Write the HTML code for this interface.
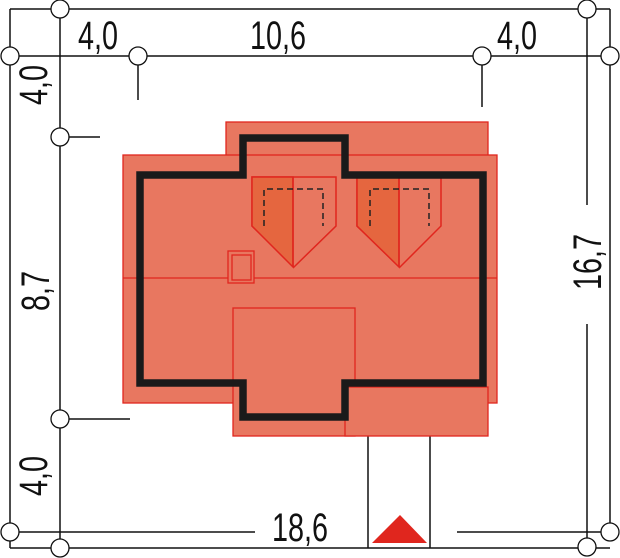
<!DOCTYPE html>
<html><head><style>
html,body{margin:0;padding:0;background:#fff;}
svg{display:block;}
text{font-family:"Liberation Sans",sans-serif;font-size:40px;fill:#111;}
</style></head><body>
<svg width="620" height="558" viewBox="0 0 620 558" xmlns="http://www.w3.org/2000/svg">
<g stroke="#111" stroke-width="1.5" fill="none">
<line x1="10" y1="9" x2="610" y2="9"/>
<line x1="10" y1="56" x2="610" y2="56"/>
<line x1="10" y1="9" x2="10" y2="548"/>
<line x1="60" y1="9" x2="60" y2="548"/>
<line x1="610" y1="9" x2="610" y2="532"/>
<line x1="587" y1="9" x2="587" y2="205"/>
<line x1="587" y1="324" x2="587" y2="548"/>
<line x1="10" y1="548" x2="610" y2="548"/>
<line x1="10" y1="532" x2="255" y2="532"/>
<line x1="457" y1="532" x2="610" y2="532"/>
<line x1="138" y1="56" x2="138" y2="100"/>
<line x1="482" y1="56" x2="482" y2="107"/>
<line x1="60" y1="137" x2="100" y2="137"/>
<line x1="60" y1="419" x2="130" y2="419"/>
<line x1="368" y1="436" x2="368" y2="548"/>
<line x1="430" y1="436" x2="430" y2="548"/>
</g>
<g fill="#E87760" stroke="#E0261E" stroke-width="1.3">
<rect x="226" y="122" width="262" height="60"/>
<rect x="123" y="155" width="374" height="248"/>
<rect x="233" y="308" width="122" height="128"/>
<rect x="345" y="387" width="143" height="49"/>
</g>
<line x1="123" y1="278" x2="497" y2="278" stroke="#E0261E" stroke-width="1.3"/>
<g stroke="#E0261E" stroke-width="1.5">
<polygon points="252,177 336,177 336,226 294,267 252,226" fill="#E87760"/>
<polygon points="252,177 293,177 293,267 252,226" fill="#E5663F"/>
<line x1="293" y1="177" x2="293" y2="267"/>
<polygon points="357,177 441,177 441,226 400,267 357,226" fill="#E87760"/>
<polygon points="357,177 399,177 399,267 357,226" fill="#E5663F"/>
<line x1="399" y1="177" x2="399" y2="267"/>
</g>
<g stroke="#222" stroke-width="1.5" stroke-dasharray="6,4" fill="none">
<polyline points="264,226 264,189 323,189 323,226"/>
<polyline points="370,226 370,189 429,189 429,226"/>
</g>
<rect x="228" y="251" width="26" height="32" fill="#E87760" stroke="#E0261E" stroke-width="1.3"/>
<rect x="232" y="255" width="19" height="25" fill="#E87760" stroke="#E0261E" stroke-width="1.3"/>
<polygon points="140,175 243,175 243,138 345,138 345,175 483,175 483,383 345,383 345,417 243,417 243,383 140,383" fill="none" stroke="#1a1a1a" stroke-width="7.5"/>
<polygon points="372,543 427,543 400,515" fill="#E0261E"/>
<g fill="#fff" stroke="#111" stroke-width="1.3">
<circle cx="60" cy="9" r="9"/>
<circle cx="10" cy="56" r="9"/>
<circle cx="138" cy="56" r="9"/>
<circle cx="60" cy="137" r="9"/>
<circle cx="587" cy="9" r="9"/>
<circle cx="610" cy="56" r="9"/>
<circle cx="482" cy="56" r="9"/>
<circle cx="60" cy="419" r="9"/>
<circle cx="10" cy="532" r="9"/>
<circle cx="60" cy="548" r="9"/>
<circle cx="610" cy="532" r="9"/>
<circle cx="587" cy="547" r="9"/>
</g>
<g>
<text transform="translate(98,49) scale(0.72,1)" text-anchor="middle">4,0</text>
<text transform="translate(278,49) scale(0.72,1)" text-anchor="middle">10,6</text>
<text transform="translate(517,49) scale(0.72,1)" text-anchor="middle">4,0</text>
<text transform="translate(300,541) scale(0.72,1)" text-anchor="middle">18,6</text>
<text transform="translate(47,85) rotate(-90) scale(0.72,1)" text-anchor="middle">4,0</text>
<text transform="translate(49,291) rotate(-90) scale(0.72,1)" text-anchor="middle">8,7</text>
<text transform="translate(47,476) rotate(-90) scale(0.72,1)" text-anchor="middle">4,0</text>
<text transform="translate(601,262) rotate(-90) scale(0.72,1)" text-anchor="middle">16,7</text>
</g>
</svg>
</body></html>
